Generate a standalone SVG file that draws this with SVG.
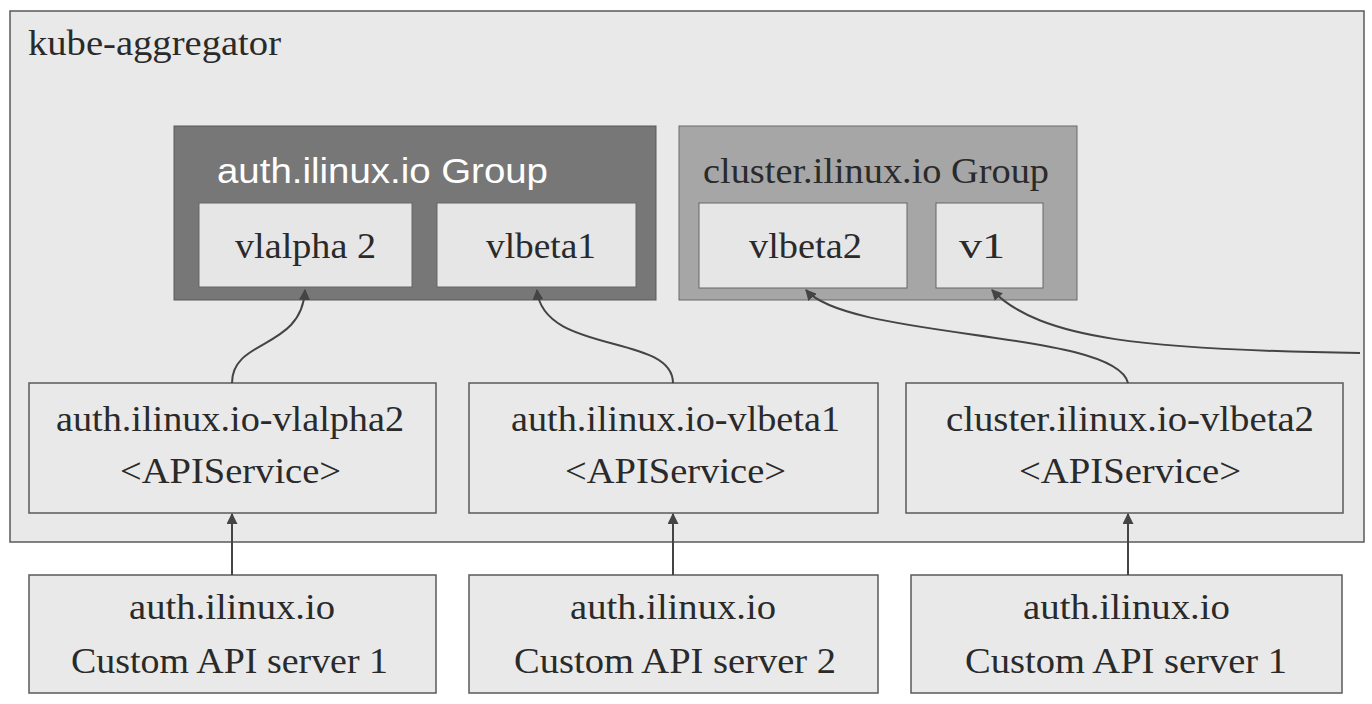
<svg xmlns="http://www.w3.org/2000/svg" width="1372" height="704" viewBox="0 0 1372 704">
<style>
.box{fill:#e9e9e9;stroke:#5a5a5a;stroke-width:1.5}
.inner{fill:#e6e6e6;stroke:#666;stroke-width:1}
.t{font-family:"Liberation Serif","Times New Roman",serif;font-size:35px;fill:#2a2a2a}
.ts{font-family:"Liberation Sans",Arial,sans-serif;font-size:35px;fill:#ffffff}
.c{fill:none;stroke:#444;stroke-width:2}
</style>
<defs>
<marker id="ah" viewBox="0 0 10 10" refX="9" refY="5" markerWidth="11" markerHeight="11" markerUnits="userSpaceOnUse" orient="auto">
<path d="M0,0 L10,5 L0,10 z" fill="#444"/>
</marker>
</defs>
<rect width="1372" height="704" fill="#ffffff"/>
<g id="kube-aggregator">
<rect class="box" x="10" y="11" width="1354" height="531"/>
<text class="t" x="28" y="55" textLength="253" lengthAdjust="spacingAndGlyphs">kube-aggregator</text>
</g>
<g id="auth-group">
<rect x="174" y="126" width="482" height="174" fill="#777777" stroke="#5a5a5a" stroke-width="1"/>
<text class="ts" x="217" y="183" textLength="331" lengthAdjust="spacingAndGlyphs">auth.ilinux.io Group</text>
</g>
<g id="auth-v1alpha2">
<rect class="inner" x="199" y="203" width="213" height="84"/>
<text class="t" x="235" y="258" textLength="141" lengthAdjust="spacingAndGlyphs">vlalpha 2</text>
</g>
<g id="auth-v1beta1">
<rect class="inner" x="437" y="203" width="199" height="84"/>
<text class="t" x="486" y="258" textLength="110" lengthAdjust="spacingAndGlyphs">vlbeta1</text>
</g>
<g id="cluster-group">
<rect x="679" y="126" width="398" height="174" fill="#a6a6a6" stroke="#6a6a6a" stroke-width="1"/>
<text class="t" x="703" y="183" textLength="346" lengthAdjust="spacingAndGlyphs">cluster.ilinux.io Group</text>
</g>
<g id="cluster-v1beta2">
<rect class="inner" x="699" y="203" width="208" height="85"/>
<text class="t" x="749" y="258" textLength="113" lengthAdjust="spacingAndGlyphs">vlbeta2</text>
</g>
<g id="cluster-v1">
<rect class="inner" x="936" y="203" width="107" height="85"/>
<text class="t" x="959" y="258" textLength="46" lengthAdjust="spacingAndGlyphs">v1</text>
</g>
<g id="apisvc-auth-v1alpha2">
<rect class="box" x="29" y="383" width="407" height="130"/>
<text class="t" x="56" y="431" textLength="348" lengthAdjust="spacingAndGlyphs">auth.ilinux.io-vlalpha2</text>
<text class="t" x="120" y="483" textLength="221" lengthAdjust="spacingAndGlyphs">&lt;APIService&gt;</text>
</g>
<g id="apisvc-auth-v1beta1">
<rect class="box" x="469" y="383" width="409" height="130"/>
<text class="t" x="511" y="431" textLength="329" lengthAdjust="spacingAndGlyphs">auth.ilinux.io-vlbeta1</text>
<text class="t" x="565" y="483" textLength="221" lengthAdjust="spacingAndGlyphs">&lt;APIService&gt;</text>
</g>
<g id="apisvc-cluster-v1beta2">
<rect class="box" x="906" y="383" width="437" height="130"/>
<text class="t" x="946" y="431" textLength="368" lengthAdjust="spacingAndGlyphs">cluster.ilinux.io-vlbeta2</text>
<text class="t" x="1019" y="483" textLength="222" lengthAdjust="spacingAndGlyphs">&lt;APIService&gt;</text>
</g>
<g id="server-auth-1">
<rect class="box" x="29" y="575" width="407" height="118"/>
<text class="t" x="129" y="619" textLength="206" lengthAdjust="spacingAndGlyphs">auth.ilinux.io</text>
<text class="t" x="71" y="673" textLength="317" lengthAdjust="spacingAndGlyphs">Custom API server 1</text>
</g>
<g id="server-auth-2">
<rect class="box" x="469" y="575" width="409" height="118"/>
<text class="t" x="570" y="619" textLength="206" lengthAdjust="spacingAndGlyphs">auth.ilinux.io</text>
<text class="t" x="514" y="673" textLength="322" lengthAdjust="spacingAndGlyphs">Custom API server 2</text>
</g>
<g id="server-cluster-1">
<rect class="box" x="911" y="575" width="431" height="118"/>
<text class="t" x="1023" y="619" textLength="207" lengthAdjust="spacingAndGlyphs">auth.ilinux.io</text>
<text class="t" x="965" y="673" textLength="322" lengthAdjust="spacingAndGlyphs">Custom API server 1</text>
</g>
<g id="connectors">
<path class="c" d="M232,575 L232,514" marker-end="url(#ah)"/>
<path class="c" d="M673,575 L673,514" marker-end="url(#ah)"/>
<path class="c" d="M1128,575 L1128,514" marker-end="url(#ah)"/>
<path class="c" d="M232,383 C232,338 302,350 305,290" marker-end="url(#ah)"/>
<path class="c" d="M673,383 C673,333 543,355 537,290" marker-end="url(#ah)"/>
<path class="c" d="M1128,383 C1115,330 850,340 806,290" marker-end="url(#ah)"/>
<path class="c" d="M1360,353 C1150,350 1040,340 992,290" marker-end="url(#ah)"/>
</g>
</svg>
